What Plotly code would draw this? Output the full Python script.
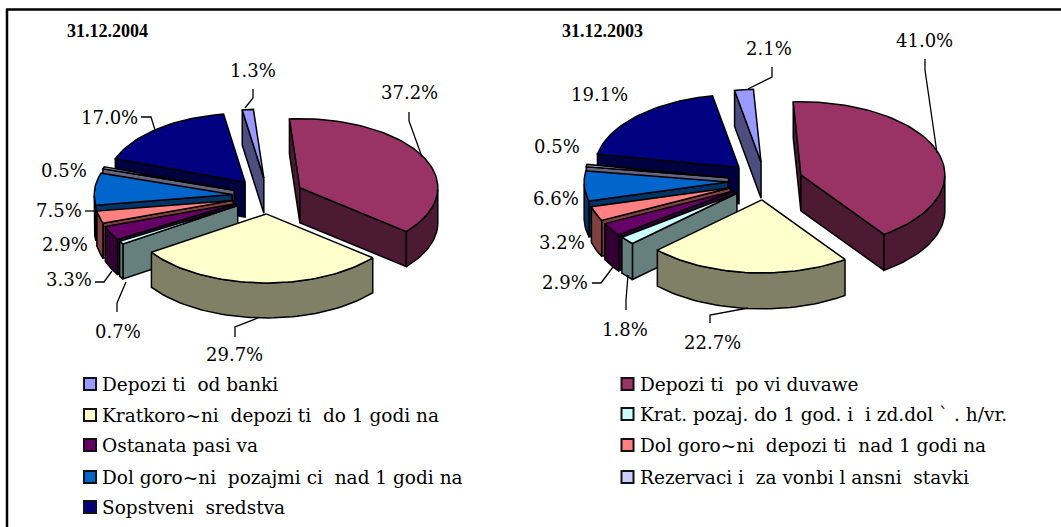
import math
import plotly.graph_objects as go

# ---------- data ----------
categories = ["Depozi ti  od banki", "Depozi ti  po vi duvawe", "Kratkoro~ni  depozi ti  do 1 godi na",
              "Krat. pozaj. do 1 god. i  i zd.dol ` . h/vr.", "Ostanata pasi va",
              "Dol goro~ni  depozi ti  nad 1 godi na", "Dol goro~ni  pozajmi ci  nad 1 godi na",
              "Rezervaci i  za vonbi l ansni  stavki", "Sopstveni  sredstva"]
values_2004 = [1.3, 37.2, 29.7, 0.7, 3.3, 2.9, 7.5, 0.5, 17.0]
values_2003 = [2.1, 41.0, 22.7, 1.8, 2.9, 3.2, 6.6, 0.5, 19.1]
top_colors = ["#9999FF", "#993366", "#FFFFCC", "#CCFFFF", "#660066", "#FF8080", "#0066CC", "#CCCCFF", "#000080"]
side_colors = ["#4D4D80", "#4D1A33", "#808066", "#668080", "#330033", "#804040", "#003366", "#666680", "#000040"]

# ---------- layout constants ----------
W, H = 1061, 527
LABEL_FONT = "DejaVu Serif"
LEGEND_FONT = "DejaVu Serif"
TITLE_FONT = "Liberation Serif"
pies = [
    dict(values=values_2004, cx=268, cy=196, rx=138, ry=69, depth=35, start=-9, explode=0.26,
         title="31.12.2004", title_x=67,
         labels=[("1.3%", 253, 70), ("37.2%", 409, 92), ("29.7%", 234, 354), ("0.7%", 118, 331),
                 ("3.3%", 69, 279), ("2.9%", 65, 244), ("7.5%", 59, 210), ("0.5%", 64, 170), ("17.0%", 109, 117)],
         leaders=[[(253, 89), (253, 98), (245, 108)], [(409, 112), (409, 121), (422, 157)],
                  [(235, 337), (235, 327), (258, 318)], [(117, 312), (117, 303), (126, 282)],
                  [(95, 282), (104, 282), (112, 271)], [(85, 211), (95, 211)],
                  [(141, 117), (151, 117), (155, 130)]]),
    dict(values=values_2003, cx=765.5, cy=181, rx=144, ry=73, depth=36, start=-10.6, explode=0.26,
         title="31.12.2003", title_x=562,
         labels=[("2.1%", 769, 48), ("41.0%", 924, 40), ("22.7%", 712, 342), ("1.8%", 625, 329),
                 ("2.9%", 565, 282), ("3.2%", 562, 242), ("6.6%", 556, 198), ("0.5%", 557, 146), ("19.1%", 599, 94)],
         leaders=[[(772, 67), (772, 77), (748, 89)], [(925, 59), (925, 70), (937, 153)],
                  [(710, 323), (710, 315), (748, 308)], [(626, 310), (626, 300), (628, 275)],
                  [(592, 283), (601, 283), (613, 267)]]),
]
legend_rows = [(0, 90, 384), (1, 627.5, 384), (2, 90, 415), (3, 627.5, 414), (4, 90, 445),
               (5, 627.5, 445), (6, 90, 477), (7, 627.5, 477), (8, 90, 507)]

fig = go.Figure()


def poly(xs, ys, color):
    fig.add_trace(go.Scatter(x=xs, y=ys, mode="lines", fill="toself", fillcolor=color,
                             line=dict(color="#000000", width=1.5), hoverinfo="skip", showlegend=False))


def draw_pie(p):
    total = sum(p["values"])
    a = p["start"]
    slices = []
    for i, v in enumerate(p["values"]):
        b = a + v / total * 360
        slices.append((i, a, b))
        a = b
    slices.sort(key=lambda s: -math.cos(math.radians((s[1] + s[2]) / 2)))
    rx, ry, h = p["rx"], p["ry"], p["depth"]
    for i, a, b in slices:
        m = math.radians((a + b) / 2)
        ox = p["cx"] + p["explode"] * rx * math.sin(m)
        oy = p["cy"] - p["explode"] * ry * math.cos(m)

        def rim(t):
            r = math.radians(t)
            return ox + rx * math.sin(r), oy - ry * math.cos(r)

        n = max(2, int((b - a) / 2) + 2)
        angles = [a + (b - a) * k / (n - 1) for k in range(n)]
        if math.sin(math.radians(a)) < 0:
            x, y = rim(a)
            poly([ox, x, x, ox, ox], [oy, y, y + h, oy + h, oy], side_colors[i])
        if math.sin(math.radians(b)) > 0:
            x, y = rim(b)
            poly([ox, x, x, ox, ox], [oy, y, y + h, oy + h, oy], side_colors[i])
        front = [t for t in angles if math.cos(math.radians(t)) <= 0]
        if len(front) >= 2:
            pts = [rim(t) for t in front]
            xs = [q[0] for q in pts] + [q[0] for q in reversed(pts)]
            ys = [q[1] for q in pts] + [q[1] + h for q in reversed(pts)]
            poly(xs + xs[:1], ys + ys[:1], side_colors[i])
        pts = [rim(t) for t in angles]
        poly([ox] + [q[0] for q in pts] + [ox], [oy] + [q[1] for q in pts] + [oy], top_colors[i])


annotations = []
for p in pies:
    draw_pie(p)
    for pts in p["leaders"]:
        fig.add_trace(go.Scatter(x=[q[0] for q in pts], y=[q[1] for q in pts], mode="lines",
                                 line=dict(color="#000000", width=1.3), hoverinfo="skip", showlegend=False))
    for text, x, y in p["labels"]:
        annotations.append(dict(x=x, y=y, text=text, showarrow=False, xref="x", yref="y",
                                font=dict(family=LABEL_FONT, size=18, color="#000000")))
    annotations.append(dict(x=p["title_x"], y=31, text="<b>%s</b>" % p["title"], showarrow=False,
                            xref="x", yref="y", xanchor="left", xshift=-2,
                            font=dict(family=TITLE_FONT, size=18, color="#000000")))

for i, x, y in legend_rows:
    fig.add_trace(go.Scatter(x=[x], y=[y], mode="markers", hoverinfo="skip", showlegend=False,
                             marker=dict(symbol="square", size=12, color=top_colors[i],
                                         line=dict(color="#111111", width=2))))
    annotations.append(dict(x=x + 12, y=y, text=categories[i], showarrow=False, xref="x", yref="y",
                            xanchor="left", xshift=-2,
                            font=dict(family=LEGEND_FONT, size=18.5, color="#000000")))

fig.update_layout(
    width=W, height=H, margin=dict(l=0, r=0, t=0, b=0),
    paper_bgcolor="#FFFFFF", plot_bgcolor="#FFFFFF", showlegend=False, annotations=annotations,
    xaxis=dict(range=[0, W], visible=False, fixedrange=True),
    yaxis=dict(range=[H, 0], visible=False, fixedrange=True),
    shapes=[dict(type="line", xref="x", yref="y", x0=6, y0=9.5, x1=W, y1=9.5,
                 line=dict(color="#000000", width=2.5), layer="below"),
            dict(type="line", xref="x", yref="y", x0=7, y0=9, x1=7, y1=H,
                 line=dict(color="#000000", width=2.5), layer="below")],
)
fig.write_html("out.html", config={"displayModeBar": False},
               post_script="document.body.style.margin='0';document.body.style.overflow='hidden';")
